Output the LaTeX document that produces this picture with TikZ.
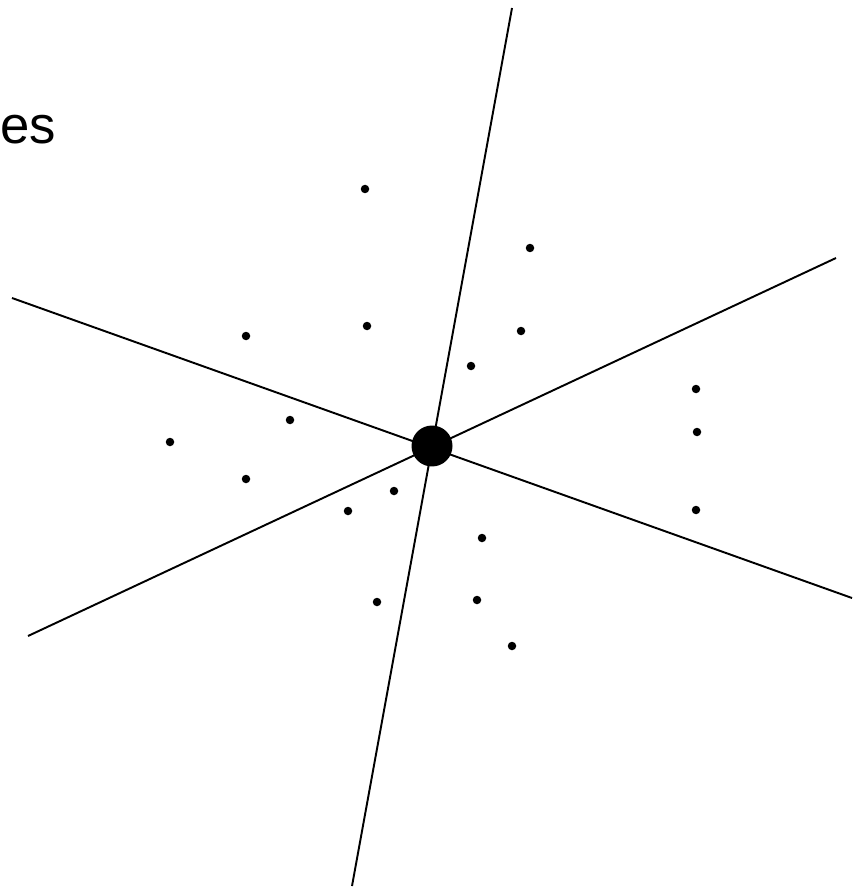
\documentclass[tikz,border=0pt]{standalone}
\usepackage{fontspec}
\setmainfont{Liberation Sans}
\usetikzlibrary{positioning}

\begin{document}
\begin{tikzpicture}[x=0.02cm, y=-0.02cm,
  pt/.style={circle, fill, inner sep=0pt, minimum size=0.17cm},
  hub/.style={circle, fill, inner sep=0pt, minimum size=0.82cm},
  ray/.style={line width=1.1pt}]
\useasboundingbox (0,0) rectangle (852,888);
\node[anchor=base west, inner sep=0pt, font=\fontsize{30}{33}\selectfont] (lbl) at (0,144) {es};
% end points of the three lines
\coordinate (n1) at (512,8);   \coordinate (s1) at (352,886);
\coordinate (w2) at (12,298);  \coordinate (e2) at (852,598);
\coordinate (w3) at (28,636);  \coordinate (e3) at (836,258);
\draw[ray] (n1) -- (s1); \draw[ray] (w2) -- (e2); \draw[ray] (w3) -- (e3);
\node[hub] (c) at (432,446) {};
% scattered points
\foreach \x/\y [count=\i] in {365/189, 530/248, 246/336, 367/326, 521/331, 471/366,
  696/389, 290/420, 170/442, 697/432, 246/479, 394/491, 348/511, 696/510,
  482/538, 377/602, 477/600, 512/646}
  \node[pt] (p\i) at (\x,\y) {};
\end{tikzpicture}
\end{document}
